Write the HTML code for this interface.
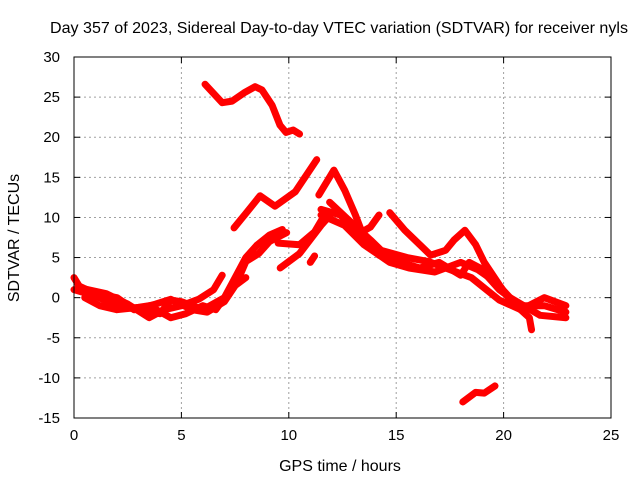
<!DOCTYPE html>
<html><head><meta charset="utf-8"><style>
body{margin:0;background:#fff;}
svg{display:block;font-family:"Liberation Sans",sans-serif;}
</style></head><body>
<svg width="640" height="480">
<g id="grid"></g><g id="series"></g><g id="axes"></g>
<text x="339" y="33" text-anchor="middle" font-size="16" textLength="578" lengthAdjust="spacingAndGlyphs">Day 357 of 2023, Sidereal Day-to-day VTEC variation (SDTVAR) for receiver nyls</text>
<text x="340" y="471" text-anchor="middle" font-size="16">GPS time / hours</text>
<text transform="translate(19,238) rotate(-90)" text-anchor="middle" font-size="16">SDTVAR / TECUs</text>
</svg>
<script>
const xTicks=[0,5,10,15,20,25];
const yTicks=[-15,-10,-5,0,5,10,15,20,25,30];
const seriesA=[[6.1,26.6],[6.9,24.3],[7.36,24.5],[7.96,25.6],[8.43,26.3],[8.75,25.9],[9.22,24.0],[9.59,21.5],[9.87,20.6],[10.2,20.9],[10.5,20.4]];
const seriesB=[[7.45,8.7],[8.0,10.5],[8.66,12.7],[9.36,11.4],[10.3,13.2],[11.3,17.2]];
const seriesC1=[[0,2.5],[0.3,1.2],[1.5,0.5],[2.5,-0.8],[3.5,-2.5],[4.2,-1.5],[5,-1],[5.8,-0.2],[6.5,1],[6.9,2.8]];
const seriesC2=[[0,1],[1,0.2],[2,-1],[3,-1.5],[4,-2],[4.5,-0.3],[5,-0.5],[6,-1.5],[7,0],[7.5,2.5],[8,5],[8.5,6.5],[9.1,7.8],[9.7,8.5]];
const seriesC3=[[0.5,0],[1.2,-1],[2,-1.5],[3,-1.2],[3.5,-1],[4.5,-2.5],[5.2,-2],[6,-1],[6.6,-1.5],[7,0],[7.6,2],[8,4.5],[8.6,5.5],[9.1,7],[9.9,8.1]];
const seriesC4=[[0.2,1.5],[1,0.5],[2,0],[2.8,-1.5],[3.8,-0.8],[4.5,-0.2],[5.5,-1.5],[6.2,-1.8],[7,-0.5],[7.5,1.5],[8,2.5]];
const seriesD=[[9.5,6.8],[10.5,6.6],[11.2,8.2],[11.6,10]];
const seriesE=[[9.6,3.7],[10.5,5.5],[11.5,9],[12,10.5]];
const seriesF=[[11.0,4.4],[11.2,5.2]];
const seriesG=[[11.4,12.8],[12.1,15.9],[12.6,13.4],[13.1,10.3],[13.4,8.2],[13.8,8.8],[14.2,10.3]];
const seriesH=[[14.7,10.6],[15.4,8.4],[16.1,6.6],[16.6,5.3],[17.3,5.9],[17.7,7.2],[18.2,8.4],[18.7,6.6],[19.1,4.4],[19.8,1.6],[20.3,-0.3],[21.2,-2.5],[21.3,-4]];
const seriesI=[[11.5,11],[12.4,10.3],[13.3,7.8],[14.2,5.3],[15.2,4.4],[16.1,3.7],[17,4.4],[18,2.8],[18.4,4.4],[18.9,3.7],[19.8,1],[20.8,-1],[21.9,-1],[22.9,-1.8]];
const seriesJ=[[11.5,10.3],[12.6,9],[13.5,6.6],[14.7,4.4],[15.6,3.7],[16.8,3.2],[18,4.4],[18.8,3.5],[19.6,2],[20.3,0],[21.7,-2.2],[22.9,-2.5]];
const seriesK=[[11.9,11.9],[12.9,9.4],[13.8,7.2],[14.3,5.9],[15.5,5],[16.5,4.5],[17.5,3.5],[18.5,2.5],[19.8,-0.3],[20.8,-1.5],[21.9,0],[22.9,-1]];
const seriesL=[[18.1,-13],[18.7,-11.8],[19.1,-11.9],[19.6,-11]];
const allSeries=[seriesA,seriesB,seriesC1,seriesC2,seriesC3,seriesC4,seriesD,seriesE,seriesF,seriesG,seriesH,seriesI,seriesJ,seriesK,seriesL];
const X0=74,X1=611,Y0=418,Y1=57;
const xs=t=>X0+(t-0)/25*(X1-X0);
const ys=v=>Y0-(v+15)/45*(Y0-Y1);
const NS="http://www.w3.org/2000/svg";
function mk(tag,attrs,parent){const e=document.createElementNS(NS,tag);for(const k in attrs)e.setAttribute(k,attrs[k]);parent.appendChild(e);return e;}
const grid=document.getElementById('grid'),axes=document.getElementById('axes'),ser=document.getElementById('series');
xTicks.forEach(t=>{
 const x=xs(t);
 if(t>0&&t<25){const l=mk('line',{x1:x,x2:x,y1:Y1,y2:Y0,stroke:'#a0a0a0','stroke-dasharray':'2,3'},grid);
 
 }
 mk('line',{x1:x,x2:x,y1:Y0,y2:Y0-6,stroke:'#000'},axes);
 mk('line',{x1:x,x2:x,y1:Y1,y2:Y1+6,stroke:'#000'},axes);
 const tx=mk('text',{x:x,y:Y0+22,'text-anchor':'middle','font-size':'15'},axes);tx.textContent=t;
 
 
});
yTicks.forEach(v=>{
 const y=ys(v);
 if(v>-15&&v<30){const l=mk('line',{x1:X0,x2:X1,y1:y,y2:y,stroke:'#a0a0a0','stroke-dasharray':'2,3'},grid);
 
 }
 mk('line',{x1:X0,x2:X0+6,y1:y,y2:y,stroke:'#000'},axes);
 mk('line',{x1:X1,x2:X1-6,y1:y,y2:y,stroke:'#000'},axes);
 const tx=mk('text',{x:X0-14,y:y+5,'text-anchor':'end','font-size':'15'},axes);tx.textContent=v;
 
 
});
const box=mk('rect',{x:X0,y:Y1,width:X1-X0,height:Y0-Y1,fill:'none',stroke:'#000'},axes);


allSeries.forEach(s=>{
 const p=mk('polyline',{points:s.map(d=>xs(d[0])+','+ys(d[1])).join(' '),fill:'none',stroke:'#ff0000','stroke-width':'7','stroke-linejoin':'round','stroke-linecap':'round'},ser);
 
 
});
</script>
</body></html>
